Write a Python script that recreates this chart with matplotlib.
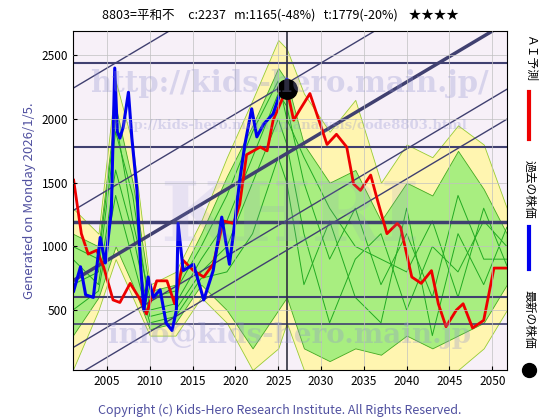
import matplotlib
matplotlib.use("Agg")
from matplotlib import pyplot as plt

plt.rcParams['font.family'] = ['Noto Sans CJK JP', 'DejaVu Sans']

# actual price (blue)
blue_year = [2001.1, 2001.9, 2002.5, 2003.4, 2004.2, 2004.8, 2005.5, 2005.9, 2006.2, 2006.5,
             2006.9, 2007.5, 2007.9, 2008.5, 2008.9, 2009.3, 2009.8, 2010.4, 2011.2, 2011.9,
             2012.6, 2013.1, 2013.3, 2013.9, 2015.1, 2016.3, 2017.4, 2018.4, 2019.3, 2019.8,
             2020.5, 2021.1, 2021.9, 2022.5, 2023.3, 2024.4, 2025.2, 2026.0]
blue_val = [650, 840, 620, 600, 1070, 870, 1280, 2400, 1900, 1850,
            1940, 2210, 1850, 1440, 870, 500, 760, 600, 660, 400,
            340, 500, 1180, 810, 860, 580, 810, 1230, 860, 1120,
            1520, 1800, 2080, 1860, 1960, 2040, 2200, 2310]

# AI prediction (red)
red_year = [2001.1, 2002.0, 2002.8, 2003.8, 2004.6, 2005.7, 2006.5, 2007.7, 2008.9, 2009.6,
            2010.8, 2012.0, 2012.9, 2013.9, 2015.1, 2016.3, 2017.4, 2018.6, 2019.8, 2020.5,
            2021.3, 2022.9, 2023.7, 2024.4, 2026.0, 2026.8, 2027.5, 2028.7, 2029.9, 2030.7,
            2031.8, 2033.0, 2033.8, 2034.6, 2035.8, 2036.6, 2037.7, 2038.9, 2039.3, 2040.6,
            2041.7, 2042.9, 2043.7, 2044.6, 2045.8, 2046.6, 2047.7, 2049.0, 2050.2, 2051.7]
red_val = [1520, 1100, 940, 970, 840, 580, 560, 710, 580, 470,
           730, 730, 550, 890, 810, 760, 860, 1200, 1180, 1330,
           1720, 1780, 1750, 1990, 2240, 1990, 2070, 2200, 1960, 1800,
           1880, 1780, 1490, 1440, 1560, 1360, 1100, 1180, 1150, 760,
           710, 810, 550, 370, 500, 550, 360, 420, 830, 830]

# similar-pattern envelopes and lines (green / yellow)
band_year = [2001, 2004, 2006, 2008, 2010, 2013, 2016, 2019, 2022, 2025, 2026,
             2028, 2031, 2034, 2037, 2040, 2043, 2046, 2049, 2051.7]
yellow_hi = [1300, 1100, 2300, 1800, 700, 800, 1200, 1700, 2150, 2620, 2550,
             2200, 1900, 2150, 1500, 1800, 1700, 1950, 1800, 1300]
yellow_lo = [30, 500, 900, 600, 300, 300, 600, 400, 30, 200, 400,
             30, 30, 30, 30, 30, 30, 30, 200, 500]
green_hi = [1100, 1000, 2100, 1500, 650, 700, 1100, 1550, 1950, 2400, 2300,
            1800, 1500, 1600, 1200, 1500, 1400, 1750, 1450, 1100]
green_lo = [300, 600, 1000, 700, 350, 400, 700, 500, 200, 500, 600,
            200, 100, 200, 150, 300, 200, 300, 400, 700]
green_l1 = [700, 800, 1900, 1400, 500, 550, 900, 1200, 1700, 2200, 2100,
            1500, 900, 1300, 700, 1100, 600, 1400, 900, 900]
green_l2 = [900, 700, 1600, 1100, 450, 500, 800, 1000, 1500, 2000, 1800,
            1100, 400, 900, 1100, 500, 1000, 800, 1200, 1000]
green_l3 = [500, 650, 1400, 900, 400, 450, 750, 800, 1100, 1700, 1500,
            700, 1200, 600, 400, 1300, 300, 1100, 700, 1150]
green_l4 = [1000, 900, 2000, 1200, 600, 650, 1000, 1400, 1900, 2300, 2000,
            1700, 1300, 1000, 900, 800, 1200, 600, 1300, 850]

h_levels = [2440, 1780, 1190, 600, 390]
h_widths = [1.5, 1.5, 2.5, 1.5, 1.2]
diag_at_2026 = [3240, 2280, 1730, 1205, 970]
diag_widths = [1.0, 1.0, 2.5, 1.0, 1.0]
diag_slope = 40

fig = plt.figure(figsize=(5.6, 4.2), dpi=100)
ax = fig.add_axes([0.130, 0.119, 0.775, 0.807])
ax.set_facecolor('#f7f0f8')

ax.fill_between(band_year, yellow_lo, yellow_hi, color='#fff5b0', lw=0.6, edgecolor='#99cc33')
ax.fill_between(band_year, green_lo, green_hi, color='#a8ee80', lw=0.6, edgecolor='#44aa22')
for g in (green_l1, green_l2, green_l3, green_l4):
    ax.plot(band_year, g, color='#22aa22', lw=0.7)

for y, w in zip(h_levels, h_widths):
    ax.axhline(y, color='#404070', lw=w)
ax.axvline(2026.0, color='#303040', lw=1.2)
xs = [2000, 2053]
for b, w in zip(diag_at_2026, diag_widths):
    ax.plot(xs, [b + diag_slope * (x - 2026) for x in xs], color='#404070', lw=w)

ax.plot(red_year, red_val, color='#ee0000', lw=2)
ax.plot(blue_year, blue_val, color='#0000ee', lw=2.2)
ax.plot([2026.0], [2237], 'o', color='black', ms=14)

# watermarks
wm = dict(transform=ax.transAxes, ha='center', family='serif', color='#9090d0', fontweight='bold')
ax.text(0.5, 0.82, 'http://kids-hero.main.jp/', fontsize=21, alpha=0.3, **wm)
ax.text(0.5, 0.71, 'http://kids-hero.main.jp/analysis/code8803.html', fontsize=9.5, alpha=0.3, **wm)
ax.text(0.5, 0.38, 'KHRI', fontsize=60, alpha=0.15, **wm)
ax.text(0.5, 0.08, 'info@kids-hero.main.jp', fontsize=20, alpha=0.3, **wm)

ax.set_xlim(2001, 2051.7)
ax.set_ylim(30, 2690)
ax.set_xticks([2005, 2010, 2015, 2020, 2025, 2030, 2035, 2040, 2045, 2050])
ax.set_yticks([500, 1000, 1500, 2000, 2500])
ax.tick_params(labelsize=8.5, direction='in', length=3)
ax.grid(color='#c0c0c0', lw=0.5)
ax.set_axisbelow(False)
ax.set_ylabel('Generated on Monday 2026/1/5.', color='#5050a0', fontsize=9.5)

fig.text(0.5, 0.955, '8803=平和不     c:2237   m:1165(-48%)   t:1779(-20%)    ★★★★',
         ha='center', fontsize=9)
fig.text(0.5, 0.015, 'Copyright (c) Kids-Hero Research Institute. All Rights Reserved.',
         ha='center', fontsize=9, color='#5050a0')

# right side legend
fig.text(0.945, 0.86, 'ＡＩ予測', rotation=270, fontsize=8.5, va='center', ha='center')
fig.lines.append(plt.Line2D([0.945, 0.945], [0.67, 0.78], color='#ee0000', lw=3, transform=fig.transFigure))
fig.text(0.945, 0.55, '過去の株価', rotation=270, fontsize=8.5, va='center', ha='center')
fig.lines.append(plt.Line2D([0.945, 0.945], [0.36, 0.46], color='#0000ee', lw=3, transform=fig.transFigure))
fig.text(0.945, 0.24, '最新の株価', rotation=270, fontsize=8.5, va='center', ha='center')
fig.lines.append(plt.Line2D([0.945], [0.12], marker='o', color='black', ms=10, transform=fig.transFigure))

fig.savefig('out.png', dpi=100)
